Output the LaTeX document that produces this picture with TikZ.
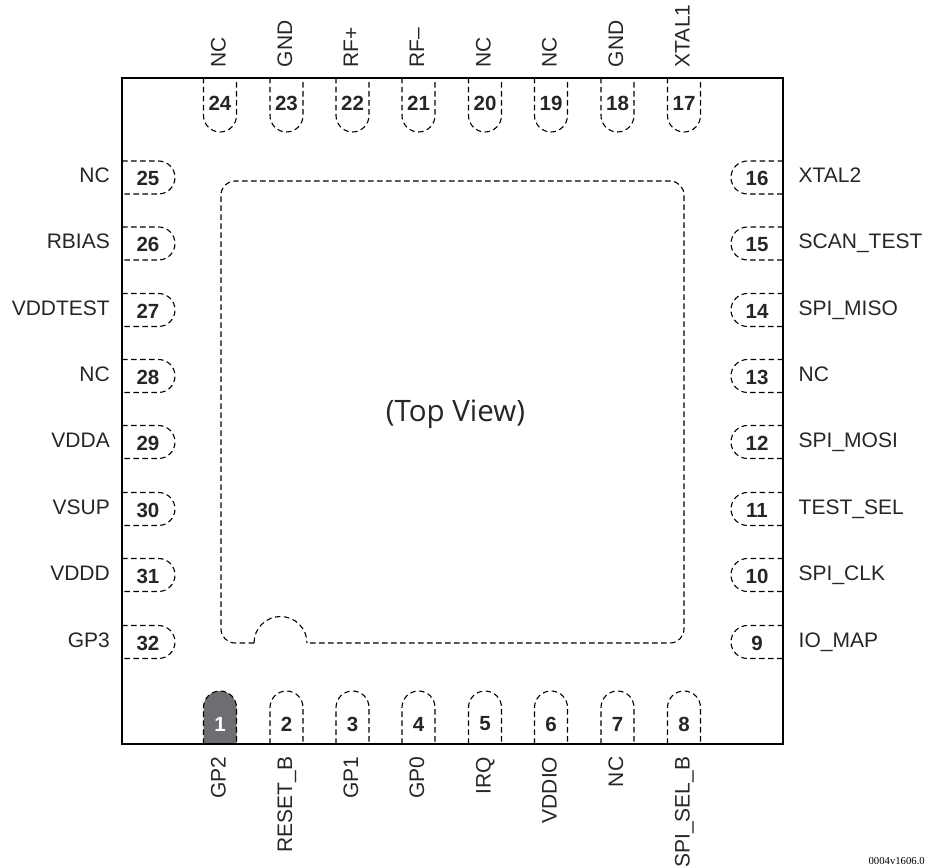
\documentclass[tikz,border=0pt]{standalone}
\usepackage{fontspec}
\setmainfont{Liberation Sans}
\newfontfamily\viewfont{Open Sans}
\newfontfamily\tagfont{Liberation Serif}
\definecolor{pinone}{HTML}{6D6E71}
\tikzset{
  pad/.style={draw=black, line width=1.1pt, dash pattern=on 5.5pt off 3.5pt},
  pinnum/.style={font=\fontsize{20.5}{20.5}\selectfont\bfseries, text=black!85, inner sep=0pt},
  pinname/.style={font=\fontsize{21}{21}\selectfont, text=black!85, inner sep=0pt, text height=15pt, text depth=0pt},
}
\begin{document}
\begin{tikzpicture}[x=1pt, y=1pt]
        \useasboundingbox (0,0) rectangle (927,867);
        % top row
        \foreach \num/\xpos/\lbl in {24/220/NC, 23/286.5/GND, 22/352.5/RF+, 21/418.5/RF--, 20/485/NC, 19/551/NC, 18/617.5/GND, 17/684/XTAL1} {
            \draw[pad] (\xpos-16.5,789) -- (\xpos-16.5,751.5) arc (180:360:16.5) -- (\xpos+16.5,789);
            \node[pinnum] (p\num) at (\xpos,763.5) {\num};
            \node[pinname, rotate=90, anchor=west] (n\num) at (\xpos-2,799.5) {\lbl};
        }
        % bottom row, pin 1 is filled
        \fill[pinone] (203.5,123) -- (203.5,159.5) arc (180:0:16.5) -- (236.5,123) -- cycle;
        \foreach \num/\xpos/\lbl in {1/220/GP2, 2/286.5/RESET\_B, 3/352.5/GP1, 4/418.5/GP0, 5/485/IRQ, 6/551/VDDIO, 7/617.5/NC, 8/684/SPI\_SEL\_B} {
            \draw[pad] (\xpos-16.5,123) -- (\xpos-16.5,159.5) arc (180:0:16.5) -- (\xpos+16.5,123);
            \node[pinnum] (p\num) at (\xpos,143) {\num};
            \node[pinname, rotate=90, anchor=east] (n\num) at (\xpos-2,110.5) {\lbl};
        }
        \node[pinnum, text=white, fill=pinone] at (p1) {1};
        % left column
        \foreach \num/\ypos/\lbl in {25/689.5/NC, 26/623.5/RBIAS, 27/557/VDDTEST, 28/491/NC, 29/425/VDDA, 30/358/VSUP, 31/292/VDDD, 32/225/GP3} {
            \draw[pad] (122,\ypos+16.5) -- (158.5,\ypos+16.5) arc (90:-90:16.5) -- (122,\ypos-16.5);
            \node[pinnum] (p\num) at (148,\ypos-1) {\num};
            \node[pinname, anchor=east] (n\num) at (110,\ypos+2) {\lbl};
        }
        % right column
        \foreach \num/\ypos/\lbl in {16/689.5/XTAL2, 15/623.5/SCAN\_TEST, 14/557/SPI\_MISO, 13/491/NC, 12/425/SPI\_MOSI, 11/358/TEST\_SEL, 10/292/SPI\_CLK, 9/225/IO\_MAP} {
            \draw[pad] (783,\ypos+16.5) -- (747.5,\ypos+16.5) arc (90:270:16.5) -- (783,\ypos-16.5);
            \node[pinnum] (p\num) at (757,\ypos-1) {\num};
            \node[pinname, anchor=west] (n\num) at (798.5,\ypos+2) {\lbl};
        }
        % center pad with notch
        \draw[pad, rounded corners=14pt] (254,224) -- (221,224) -- (221,686) -- (684,686) -- (684,224) -- (307,224);
        \draw[pad] (254,224) arc (180:0:26.5);
        % body outline
        \draw[line width=2.2pt, black] (122,123) rectangle (783,789);
        \node[font=\viewfont\fontsize{29.5}{29.5}\selectfont, text=black!85, inner sep=0pt] (view) at (455.5,453) {(Top View)};
        \node[font=\tagfont\fontsize{10.7}{11}\selectfont, anchor=east, inner sep=0pt] (tag) at (925,6) {0004v1606.0};
\end{tikzpicture}
\end{document}
